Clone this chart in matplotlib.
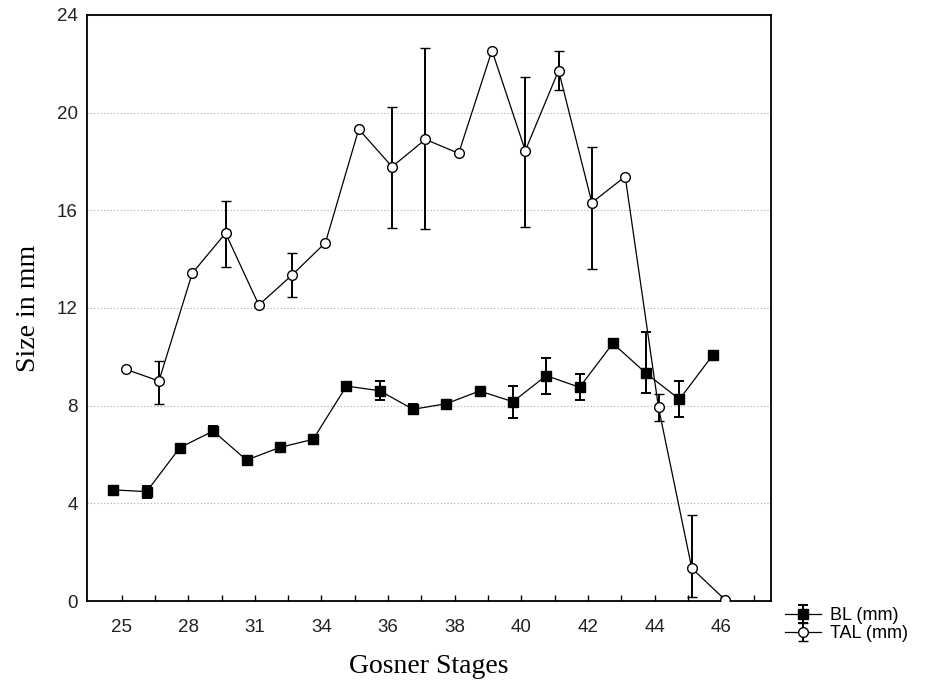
import numpy as np
import matplotlib
matplotlib.use('Agg')
import matplotlib.pyplot as plt

# Gosner stages (19 categories, only every other one labelled)
n_stages = 19
stage_labels = ['25', '28', '31', '34', '36', '38', '40', '42', '44', '46']

# body length (mm)
bl_mean = [4.55, 4.48, 6.28, 6.96, 5.77, 6.29, 6.62, 8.80, 8.61, 7.85,
           8.08, 8.60, 8.16, 9.23, 8.75, 10.55, 9.32, 8.26, 10.07]
bl_err_lo = [0, 0.25, 0, 0.22, 0, 0, 0, 0, 0.39, 0.20,
             0, 0, 0.65, 0.74, 0.53, 0, 0.82, 0.74, 0]
bl_err_hi = [0, 0.25, 0, 0.22, 0, 0, 0, 0, 0.39, 0.20,
             0, 0, 0.65, 0.74, 0.53, 0, 1.70, 0.74, 0]

# total length (mm)
tal_mean = [9.49, 9.01, 13.42, 15.06, 12.12, 13.35, 14.67, 19.32, 17.78, 18.90,
            18.33, 22.54, 18.44, 21.72, 16.31, 17.38, 7.93, 1.34, 0.05]
tal_err_lo = [0, 0.94, 0, 1.40, 0, 0.89, 0, 0, 2.49, 3.68,
              0, 0, 3.14, 0.79, 2.73, 0, 0.55, 1.19, 0]
tal_err_hi = [0, 0.82, 0, 1.32, 0, 0.89, 0, 0, 2.46, 3.73,
              0, 0, 3.03, 0.80, 2.29, 0, 0.55, 2.18, 0]


def nan_zero(values):
    arr = np.array(values, dtype=float)
    arr[arr == 0] = np.nan
    return arr


fig = plt.figure(figsize=(9.29, 6.84), dpi=100)
ax = fig.add_axes([0.094, 0.1213, 0.736, 0.857])

x = np.arange(n_stages)

bl = ax.errorbar(x - 0.25, bl_mean,
                 yerr=[nan_zero(bl_err_lo), nan_zero(bl_err_hi)],
                 fmt='-s', color='black', mfc='black', mec='black', ms=7,
                 lw=0.9, elinewidth=1.4, capsize=3.7, capthick=1.4,
                 label='BL (mm)', zorder=3)
tal = ax.errorbar(x + 0.12, tal_mean,
                  yerr=[nan_zero(tal_err_lo), nan_zero(tal_err_hi)],
                  fmt='-o', color='black', mfc='white', mec='black', ms=7,
                  mew=1.0, lw=0.9, elinewidth=1.4, capsize=3.7, capthick=1.4,
                  label='TAL (mm)', zorder=3)

ax.set_xlim(-1.03, 19.5)
ax.set_ylim(0, 24)

ax.set_xticks(x[::2])
ax.set_xticklabels(stage_labels)
ax.set_xticks(np.append(x[1::2], n_stages), minor=True)
ax.tick_params(axis='x', which='both', direction='in', length=4, width=1,
               pad=13, labelsize=13.5, labelcolor='#222222')
ax.set_yticks(np.arange(0, 25, 4))
ax.tick_params(axis='y', length=0, pad=7, labelsize=13.5, labelcolor='#222222')
for lab in ax.get_xticklabels() + ax.get_yticklabels():
    lab.set_family('Liberation Sans')

ax.yaxis.grid(True, linestyle=(0, (1, 2)), color='#aaaaaa', lw=0.8)
ax.set_axisbelow(True)
for sp in ax.spines.values():
    sp.set_linewidth(1.3)

ax.set_xlabel('Gosner Stages', family='Liberation Serif', fontsize=20, labelpad=13)
ax.set_ylabel('Size in mm', family='Liberation Serif', fontsize=20, labelpad=11)

fig.legend(handles=[bl, tal], loc='upper left',
           bbox_to_anchor=(785 / 929, 1 - 607 / 684), frameon=False,
           prop={'family': 'Liberation Sans', 'size': 13},
           handlelength=2.0, handletextpad=0.5, labelspacing=0.05,
           borderpad=0, borderaxespad=0)

fig.savefig('out.png', dpi=100)
